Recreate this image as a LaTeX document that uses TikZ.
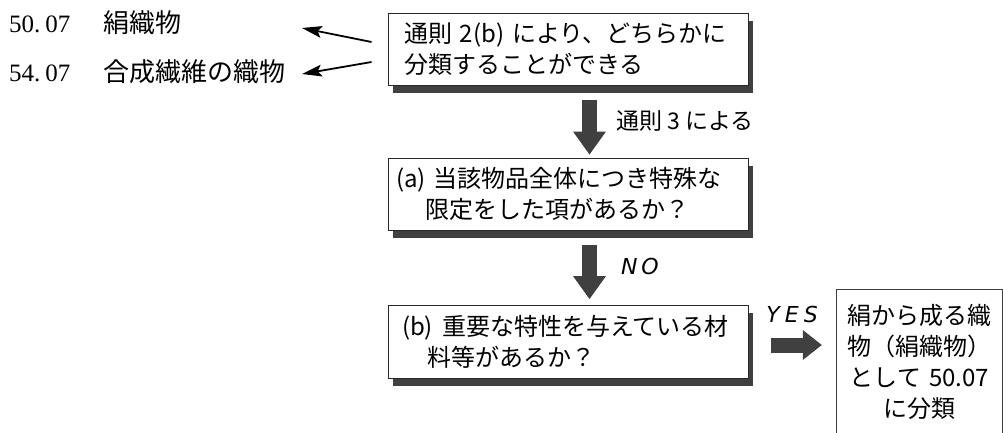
\documentclass[tikz,border=0pt]{standalone}
\usepackage{fontspec}
\setmainfont{Liberation Serif}
\newfontfamily\cjk{Noto Sans CJK JP}
\newfontfamily\dvs{DejaVu Sans}
\usetikzlibrary{arrows.meta,backgrounds}
\definecolor{dk}{RGB}{64,64,64}
\definecolor{edgec}{RGB}{40,40,40}
\begin{document}
\begin{tikzpicture}[x=1pt,y=-1pt,
  flowbox/.style={draw=edgec, line width=0.9pt, fill=white,
    minimum width=360pt, minimum height=72pt, text width=344pt, inner xsep=8pt,
    align=left, font=\cjk\fontsize{24}{31}\selectfont},
  boxshadow/.style={fill=dk},
  blockarrow/.style={draw=dk, line width=15pt, -{Triangle[length=23pt,width=33pt,line width=0pt 0]}},
  blockarrowh/.style={draw=dk, line width=15pt, -{Triangle[length=19pt,width=30pt,line width=0pt 0]}},
  thinarrow/.style={draw=black, line width=1.8pt, -{Stealth[length=20pt,width=12pt,inset=4pt,line width=0pt 0]}},
  lbl/.style={inner sep=0pt, font=\fontsize{25}{25}\selectfont},
  arrlbl/.style={inner sep=0pt, font=\cjk\fontsize{23}{23}\selectfont},
  yn/.style={inner sep=0pt, font=\dvs\itshape\fontsize{22}{22}\selectfont},
  edgeline/.style={draw=edgec!90, line width=0.9pt}]
\useasboundingbox (0,0) rectangle (1003,433);

% left labels
\node[lbl, anchor=west] (t1) at (9,23) {\makebox[94pt][l]{50.\hspace{5pt}07}{\cjk\fontsize{26}{26}\selectfont 絹織物}};
\node[lbl, anchor=west] (t2) at (9,72) {\makebox[94pt][l]{54.\hspace{5pt}07}{\cjk\fontsize{26}{26}\selectfont 合成繊維の織物}};

% boxes
\node[flowbox] (b1) at (568,49) {\hspace*{8pt}通則 2(b) により、どちらかに\\\hspace*{8pt}分類することができる};
\node[flowbox] (b2) at (568,194) {(a) 当該物品全体につき特殊な\\\hspace*{29pt}限定をした項があるか？};
\node[flowbox, minimum height=73pt] (b3) at (568,341.5) {\hspace*{6pt}(b)\hspace{9pt}重要な特性を与えている材\\\hspace*{31pt}料等があるか？};
\begin{scope}[on background layer]
  \foreach \b in {b1,b2,b3}
    \fill[boxshadow] ([shift={(5pt,-8pt)}]\b.south west) rectangle ([shift={(5pt,-8pt)}]\b.north east);
\end{scope}
\node[minimum width=165pt, minimum height=143pt, text width=160pt, inner sep=0pt, align=center,
      font=\cjk\fontsize{24}{31}\selectfont] (b4) at (919.5,361.5) {絹から成る織\\物（絹織物）\\として 50.07\\に分類};
\draw[edgeline] (b4.south west) -- (b4.north west) -- (b4.north east) -- (b4.south east);

% block arrows
\draw[blockarrow] ([shift={(21.5pt,-15pt)}]b1.south) -- ([shift={(21.5pt,3pt)}]b2.north)
  node[arrlbl, pos=0.38, anchor=west, xshift=19pt] (l1) {通則 3 による};
\draw[blockarrow] ([shift={(21.5pt,-15pt)}]b2.south) -- ([shift={(21.5pt,5.5pt)}]b3.north)
  node[yn, pos=0.4, anchor=west, xshift=24pt] (l2) {N\hspace{4pt}O};
\coordinate (h1) at ([shift={(23pt,-3.5pt)}]b3.east);
\coordinate (h2) at (h1 -| b4.west);
\draw[blockarrowh] (h1) -- ([xshift=-15pt]h2)
  node[yn, pos=0.41, yshift=31pt] (l3) {Y\hspace{5pt}E\hspace{5pt}S};

% thin arrows
\coordinate (h3) at (302,28);
\coordinate (h4) at (302,74);
\draw[thinarrow] ([shift={(-16pt,7pt)}]b1.west) -- (h3);
\draw[thinarrow] ([shift={(-16pt,-13pt)}]b1.west) -- (h4);
\end{tikzpicture}
\end{document}
